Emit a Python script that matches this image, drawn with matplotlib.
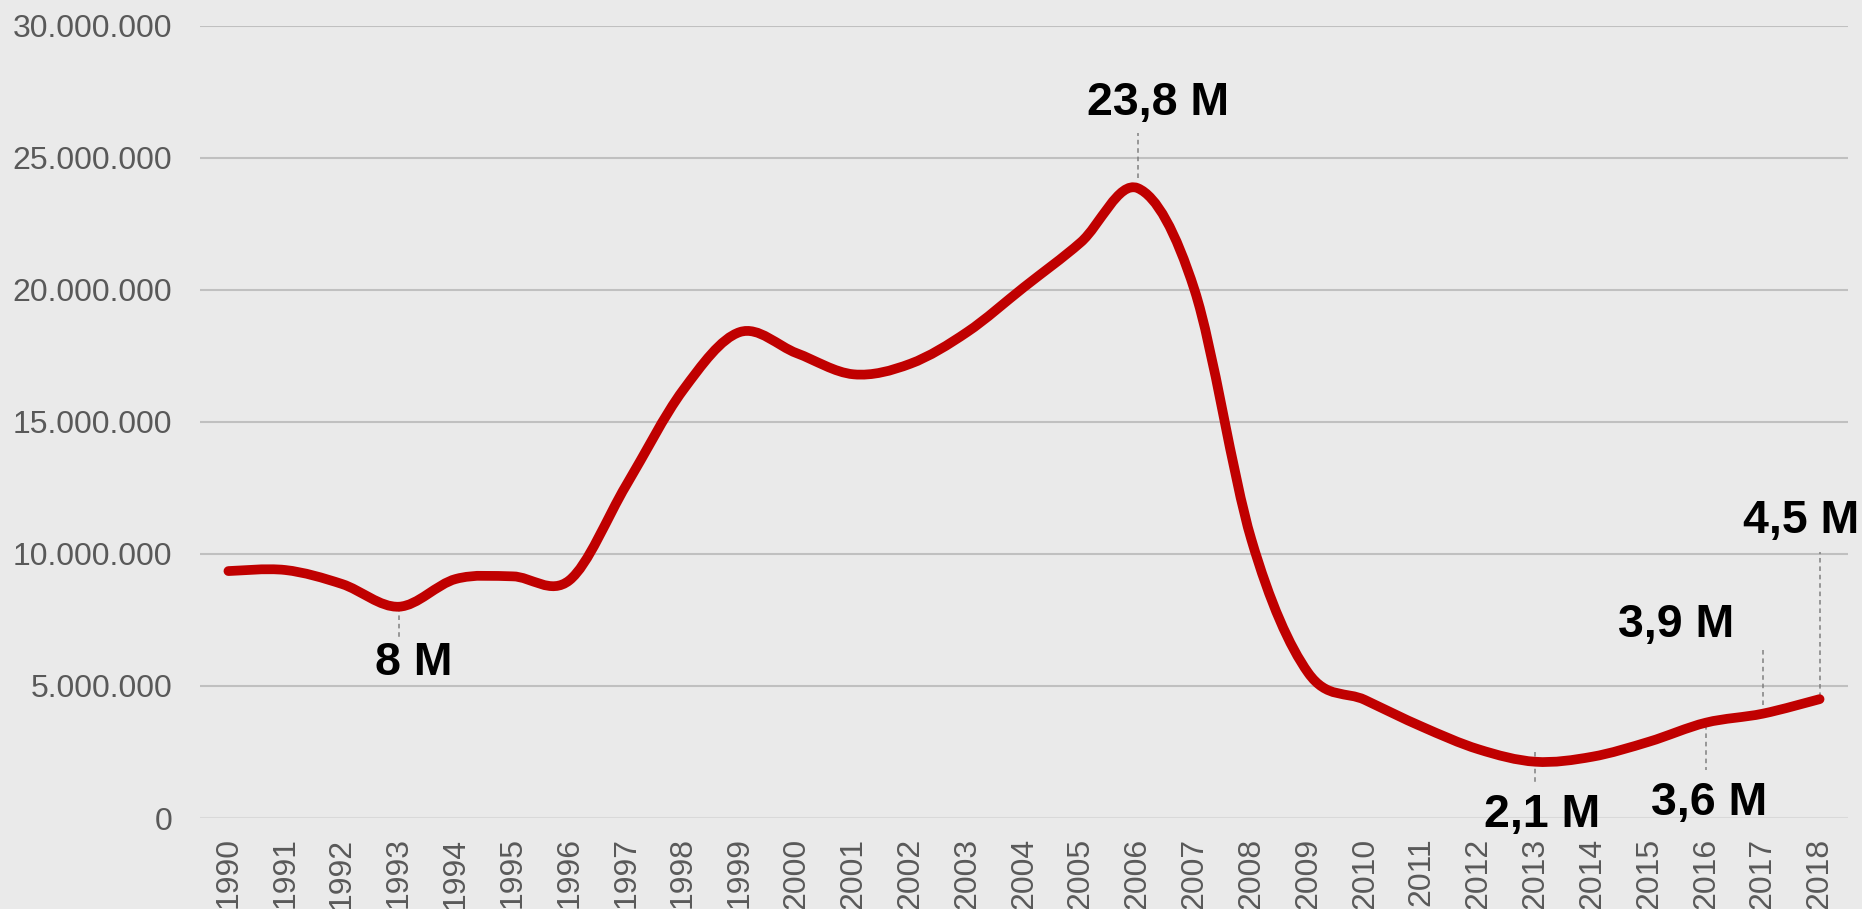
import matplotlib
matplotlib.use("Agg")
import matplotlib.pyplot as plt
from matplotlib.path import Path
from matplotlib.patches import PathPatch
from matplotlib.ticker import FuncFormatter

# annual values, in millions
years = ["1990", "1991", "1992", "1993", "1994", "1995", "1996", "1997", "1998", "1999",
         "2000", "2001", "2002", "2003", "2004", "2005", "2006", "2007", "2008", "2009",
         "2010", "2011", "2012", "2013", "2014", "2015", "2016", "2017", "2018"]
values_m = [9.35, 9.39, 8.86, 8.0, 9.05, 9.15, 9.0, 12.6, 16.2, 18.4,
            17.6, 16.8, 17.2, 18.4, 20.1, 21.8, 23.85, 20.0, 10.55, 5.5,
            4.47, 3.46, 2.6, 2.13, 2.32, 2.89, 3.61, 3.95, 4.5]
y_ticks = [0, 5000000, 10000000, 15000000, 20000000, 25000000, 30000000]

# callouts: label and the year it points at
callout_labels = ["8 M", "23,8 M", "2,1 M", "3,6 M", "3,9 M", "4,5 M"]
callout_years = ["1993", "2006", "2013", "2016", "2017", "2018"]


def smooth_path(xs, ys):
    # excel-like smoothed line: cubic bezier segments through every point
    verts = [(xs[0], ys[0])]
    codes = [Path.MOVETO]
    n = len(xs)
    for i in range(n - 1):
        a = i - 1 if i > 0 else i
        d = i + 2 if i + 2 < n else i + 1
        c1 = (xs[i] + (xs[i + 1] - xs[a]) / 6, ys[i] + (ys[i + 1] - ys[a]) / 6)
        c2 = (xs[i + 1] - (xs[d] - xs[i]) / 6, ys[i + 1] - (ys[d] - ys[i]) / 6)
        verts += [c1, c2, (xs[i + 1], ys[i + 1])]
        codes += [Path.CURVE4] * 3
    return Path(verts, codes)


plt.rcParams['font.family'] = ['Liberation Sans', 'DejaVu Sans']

bg = '#EAEAEA'
fig = plt.figure(figsize=(18.62, 9.09), dpi=100, facecolor=bg)
ax = fig.add_axes([200 / 1862, 1 - 818 / 909, 1648 / 1862, 792.3 / 909])
ax.set_facecolor(bg)

xs = list(range(len(years)))
ys = [v * 1e6 for v in values_m]

for t in y_ticks:
    ax.axhline(t, color='#D9D9D9' if t == 0 else '#C0C0C0', lw=1.5, zorder=1)

ax.add_patch(PathPatch(smooth_path(xs, ys), facecolor='none', edgecolor='#C00000',
                       lw=7, capstyle='round', joinstyle='round', zorder=3))

ax.set_xlim(-0.5, len(years) - 0.5)
ax.set_ylim(0, 30000000)
ax.set_xticks(xs)
ax.set_xticklabels(years, rotation=90, va='top', ha='center')
ax.set_yticks(y_ticks)
ax.yaxis.set_major_formatter(FuncFormatter(lambda v, p: f"{int(v):,}".replace(",", ".")))
ax.tick_params(axis='both', length=0, labelsize=23, colors='#595959')
ax.tick_params(axis='y', pad=20)
ax.tick_params(axis='x', pad=14)
for s in ax.spines.values():
    s.set_visible(False)

# (text x shift, text baseline, dash start, dash end) in data units
placement = [
    (0.27, 5.41, 7.99, 6.85),
    (0.36, 26.62, 24.23, 25.94),
    (0.12, -0.34, 2.5, 1.36),
    (0.06, 0.11, 3.52, 1.82),
    (-1.52, 6.85, 4.28, 6.36),
    (-0.32, 10.79, 4.58, 10.07),
]
for lab, yr, (dx, ty, d0, d1) in zip(callout_labels, callout_years, placement):
    i = years.index(yr)
    ax.plot([i, i], [d0 * 1e6, d1 * 1e6], color='#808080', lw=1.1,
            ls=(0, (3, 2.5)), zorder=2)
    ax.text(i + dx, ty * 1e6, lab, fontsize=33.5, fontweight='bold', color='black',
            ha='center', va='baseline', clip_on=False, zorder=4)

fig.savefig('out.png', dpi=100, facecolor=bg)
